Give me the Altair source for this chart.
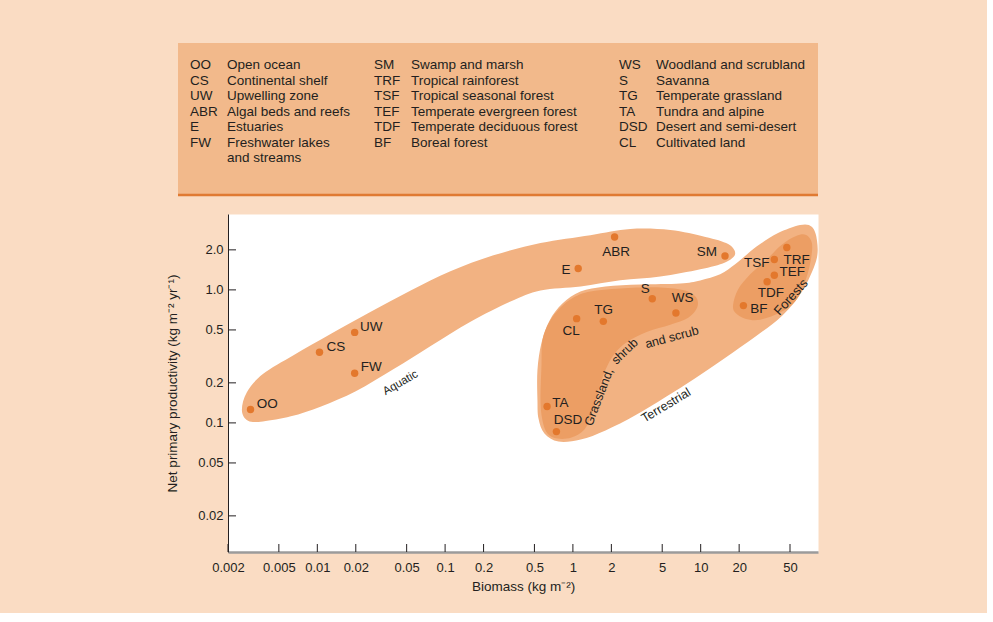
import altair as alt
import pandas as pd

# ---------------- data ----------------
codes = ["OO", "CS", "UW", "FW", "E", "ABR", "SM", "S", "WS", "TG", "CL",
         "TA", "DSD", "TRF", "TSF", "TEF", "TDF", "BF"]
biomass = [0.003, 0.0104, 0.0196, 0.0196, 1.10, 2.12, 15.5, 4.18, 6.4, 1.73, 1.07,
           0.628, 0.743, 47.2, 37.7, 37.7, 33.1, 21.6]
npp = [0.126, 0.34, 0.479, 0.236, 1.45, 2.50, 1.80, 0.857, 0.671, 0.58, 0.608,
       0.133, 0.086, 2.08, 1.69, 1.29, 1.15, 0.762]

# where each code label sits (data units) and how it is aligned
label_biomass = [0.00335, 0.01181, 0.0216, 0.0219, 0.957, 2.18, 13.4, 3.69, 7.21, 1.741, 0.969,
                 0.688, 0.708, 44.4, 34.5, 41.3, 35.4, 24.4]
label_npp = [0.1397, 0.375, 0.526, 0.262, 1.404, 1.911, 1.911, 1.020, 0.872, 0.711, 0.487,
             0.141, 0.1056, 1.690, 1.605, 1.372, 0.951, 0.720]
label_align = ["left", "left", "left", "left", "right", "center", "right", "center", "center",
               "center", "center", "left", "left", "left", "right", "left", "center", "left"]

# outlines of the shaded regions (biomass, npp)
aquatic_biomass = [0.00257, 0.00281, 0.00375, 0.00656, 0.0128, 0.0262, 0.0538, 0.110, 0.239, 0.558,
                   1.37, 2.81, 5.78, 10.9, 16.4, 18.6, 15.5, 9.92, 4.83, 2.35,
                   1.15, 0.558, 0.325, 0.158, 0.0771, 0.0396, 0.0200, 0.0107, 0.00621, 0.00375, 0.00287]
aquatic_npp = [0.124, 0.170, 0.233, 0.324, 0.468, 0.686, 0.990, 1.38, 1.82, 2.25,
               2.58, 2.87, 2.82, 2.50, 2.21, 1.86, 1.61, 1.43, 1.26, 1.18,
               1.06, 0.990, 0.817, 0.577, 0.379, 0.254, 0.173, 0.133, 0.112, 0.1025, 0.104]

terr_biomass = [0.528, 0.528, 0.568, 0.656, 0.828, 1.145, 1.796, 3.37, 6.92, 9.92,
                14.2, 18.6, 23.1, 29.2, 40.3, 59.9, 74.4, 81.4, 79.9, 62.1,
                43.4, 26.7, 15.5, 9.06, 5.28, 3.08, 1.80, 1.15, 0.771, 0.599, 0.538]
terr_npp = [0.148, 0.250, 0.400, 0.587, 0.789, 0.973, 1.062, 1.099, 1.119, 1.179,
            1.309, 1.558, 1.856, 2.210, 2.676, 3.078, 2.972, 2.328, 1.642, 0.973,
            0.640, 0.444, 0.308, 0.217, 0.156, 0.114, 0.0877, 0.0749, 0.0724, 0.0832, 0.108]

grass_biomass = [0.578, 0.656, 0.799, 1.010, 1.371, 2.35, 4.83, 7.57, 9.23, 9.39,
                 7.99, 5.78, 3.82, 2.67, 2.11, 1.796, 1.583, 1.421, 1.231, 0.974,
                 0.757, 0.632, 0.578, 0.558, 0.568]
grass_npp = [0.421, 0.577, 0.736, 0.877, 0.973, 1.025, 1.044, 0.990, 0.877, 0.736,
             0.618, 0.547, 0.484, 0.407, 0.330, 0.250, 0.176, 0.120, 0.0892, 0.0776,
             0.0762, 0.0832, 0.1044, 0.148, 0.272]

forest_biomass = [17.95, 19.6, 24.4, 31.9, 42.6, 55.8, 66.8, 74.4, 71.7, 64.4,
                  54.8, 41.8, 29.2, 22.3, 18.6]
forest_npp = [0.776, 1.008, 1.309, 1.642, 2.17, 2.54, 2.584, 2.210, 1.558, 1.099,
              0.817, 0.675, 0.597, 0.608, 0.675]

region_text = ["Aquatic", "Terrestrial", "Forests", "Grassland,", "shrub", "and scrub"]
region_biomass = [0.0449, 5.35, 51.0, 1.60, 2.55, 5.95]
region_npp = [0.199, 0.1356, 0.881, 0.1566, 0.345, 0.440]
region_angle = [330, 329, 312, 291, 316, 345]
region_size = [11.5, 12.5, 13, 12.5, 12.5, 12.5]

x_ticks = [0.002, 0.005, 0.01, 0.02, 0.05, 0.1, 0.2, 0.5, 1, 2, 5, 10, 20, 50]
y_ticks = [0.02, 0.05, 0.1, 0.2, 0.5, 1.0, 2.0]

legend_codes = ["OO", "CS", "UW", "ABR", "E", "FW", "",
                "SM", "TRF", "TSF", "TEF", "TDF", "BF",
                "WS", "S", "TG", "TA", "DSD", "CL"]
legend_desc = ["Open ocean", "Continental shelf", "Upwelling zone", "Algal beds and reefs",
               "Estuaries", "Freshwater lakes", "and streams",
               "Swamp and marsh", "Tropical rainforest", "Tropical seasonal forest",
               "Temperate evergreen forest", "Temperate deciduous forest", "Boreal forest",
               "Woodland and scrubland", "Savanna", "Temperate grassland", "Tundra and alpine",
               "Desert and semi-desert", "Cultivated land"]
legend_col = [0] * 7 + [1] * 6 + [2] * 6
legend_row = [0, 1, 2, 3, 4, 5, 6, 0, 1, 2, 3, 4, 5, 0, 1, 2, 3, 4, 5]

# ---------------- styling ----------------
FONT = "Liberation Sans"
INK = "#231F20"
PEACH = "#FADCC3"
BOX = "#F2B98B"
LIGHT = "#F2B282"
DARK = "#EC9E64"
DOT = "#E3782D"
W, H = 590, 338
LH = 153

pts = pd.DataFrame({"code": codes, "biomass": biomass, "npp": npp})
labels = pd.DataFrame({"code": codes, "biomass": label_biomass, "npp": label_npp, "align": label_align})
regions = pd.DataFrame({"text": region_text, "biomass": region_biomass, "npp": region_npp,
                        "angle": region_angle, "size": region_size})


def outline(bx, ny):
    return pd.DataFrame({"biomass": bx, "npp": ny, "i": list(range(len(bx)))})


xscale = alt.Scale(type="log", domain=[0.002, 82.8], nice=False)
yscale = alt.Scale(type="log", domain=[0.0107, 3.72], nice=False)

X = alt.X("biomass:Q", scale=xscale, title="Biomass (kg m⁻²)",
          axis=alt.Axis(values=x_ticks, format="~g", ticks=False, tickSize=0, grid=False,
                        labelPadding=9, labelOverlap=False, labelFlush=False,
                        domainColor="#9B9B9B", domainWidth=2.5,
                        labelFont=FONT, labelFontSize=13, labelColor=INK,
                        titleFont=FONT, titleFontSize=13.5, titleFontWeight="normal",
                        titleColor=INK, titlePadding=5))
Y = alt.Y("npp:Q", scale=yscale, title="Net primary productivity (kg m⁻² yr⁻¹)",
          axis=alt.Axis(values=y_ticks,
                        labelExpr="datum.value >= 1 ? format(datum.value, '.1f') : format(datum.value, '~g')",
                        ticks=False, tickSize=0, grid=False, labelPadding=5,
                        labelOverlap=False, labelFlush=False,
                        domainColor=INK, domainWidth=1,
                        labelFont=FONT, labelFontSize=13, labelColor=INK,
                        titleFont=FONT, titleFontSize=13.5, titleFontWeight="normal",
                        titleColor=INK, titlePadding=18))


def blob(df, color):
    return alt.Chart(df).mark_line(filled=True, color=color, interpolate="cardinal-closed").encode(
        x=X, y=Y, order=alt.Order("i:Q"))


blobs = [
    blob(outline(aquatic_biomass, aquatic_npp), LIGHT),
    blob(outline(terr_biomass, terr_npp), LIGHT),
    blob(outline(grass_biomass, grass_npp), DARK),
    blob(outline(forest_biomass, forest_npp), DARK),
]

xtick_df = pd.DataFrame({"biomass": x_ticks})
ytick_df = pd.DataFrame({"npp": y_ticks})
xticks = alt.Chart(xtick_df).mark_rule(color=INK, strokeWidth=1).encode(
    x=X, y=alt.value(H), y2=alt.value(H - 8))
yticks = alt.Chart(ytick_df).mark_rule(color=INK, strokeWidth=1).encode(
    y=Y, x=alt.value(0), x2=alt.value(8))

dots = alt.Chart(pts).mark_circle(size=55, color=DOT, opacity=1).encode(x=X, y=Y)

label_layers = []
for a in ["left", "center", "right"]:
    label_layers.append(
        alt.Chart(labels).transform_filter(alt.datum.align == a).mark_text(
            align=a, baseline="middle", font=FONT, fontSize=13.5, color=INK
        ).encode(x=X, y=Y, text="code:N"))

region_layer = alt.Chart(regions).mark_text(
    align="center", baseline="middle", font=FONT, color=INK
).encode(x=X, y=Y, text="text:N", angle=alt.Angle("angle:Q", scale=None),
         size=alt.Size("size:Q", scale=None))

plot = alt.layer(*blobs, xticks, yticks, dots, *label_layers, region_layer).properties(
    width=W, height=H, view=alt.ViewBackground(fill="white", stroke="transparent"))

# ---------------- legend box ----------------
leg = pd.DataFrame({"col": legend_col, "row": legend_row, "code": legend_codes, "desc": legend_desc})
LX = alt.X("col:Q", scale=alt.Scale(domain=[0, 1, 2], range=[-38, 146, 391]), axis=None)
LY = alt.Y("row:Q", scale=alt.Scale(domain=[0, 6], range=[22, 115]), axis=None)
one = pd.DataFrame({"k": [0]})
box = alt.Chart(one).mark_rect(color=BOX).encode(
    x=alt.value(-50), x2=alt.value(W), y=alt.value(0), y2=alt.value(LH - 1))
border = alt.Chart(one).mark_rule(color="#E07A32", strokeWidth=2.5).encode(
    x=alt.value(-50), x2=alt.value(W), y=alt.value(LH - 1))
leg_code = alt.Chart(leg).mark_text(align="left", baseline="middle", font=FONT,
                                    fontSize=13.5, color=INK).encode(x=LX, y=LY, text="code:N")
leg_desc = alt.Chart(leg).mark_text(align="left", baseline="middle", font=FONT,
                                    fontSize=13.5, color=INK, dx=37).encode(x=LX, y=LY, text="desc:N")
legend = alt.layer(box, border, leg_code, leg_desc).properties(
    width=W, height=LH, view=alt.ViewBackground(fill="transparent", stroke="transparent"))

chart = alt.vconcat(legend, plot, spacing=16).properties(
    background=PEACH,
    padding={"left": 165, "top": 42, "right": 167, "bottom": 20},
).configure_view(stroke="transparent")

chart.save("out.html", embed_options={"renderer": "svg", "actions": False})
